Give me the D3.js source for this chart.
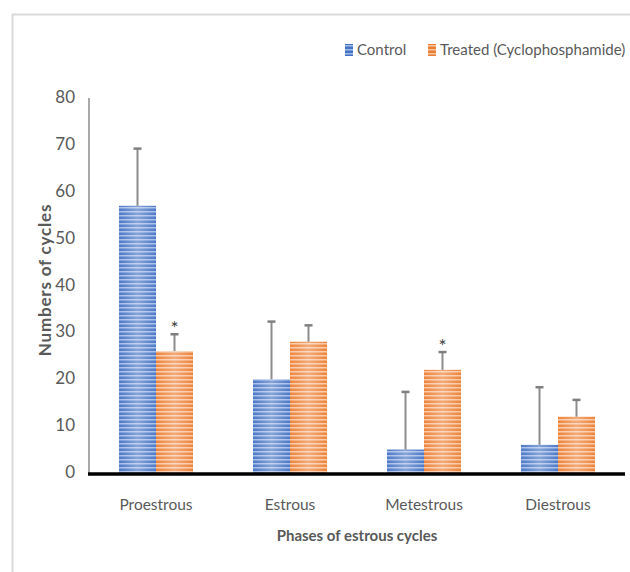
<!DOCTYPE html>
<html>
<head>
<meta charset="utf-8">
<style>
  body { margin: 0; background: #fff; }
  svg { display: block; font-family: Lato, "Open Sans", sans-serif; }
</style>
</head>
<body>
<svg width="630" height="572"></svg>
<script src="https://cdn.jsdelivr.net/npm/d3@7"></script>
<script>
var phases = ["Proestrous", "Estrous", "Metestrous", "Diestrous"];
var seriesNames = ["Control", "Treated (Cyclophosphamide)"];
var controlValues = [57, 20, 5, 6];
var controlErrors = [12.2, 12.3, 12.3, 12.3];
var treatedValues = [26, 28, 22, 12];
var treatedErrors = [3.6, 3.5, 3.8, 3.6];
var treatedStars = [true, false, true, false];
var yTicks = [0, 10, 20, 30, 40, 50, 60, 70, 80];

var svg = d3.select("svg"),
    margin = { left: 89, right: 5, top: 98, bottom: 99 },
    width = 630 - margin.left - margin.right,
    height = 572 - margin.top - margin.bottom;

// frame around the figure
svg.append("rect")
    .attr("x", 12.5).attr("y", 14.5)
    .attr("width", 640).attr("height", 600)
    .attr("fill", "none").attr("stroke", "#d9d9d9").attr("stroke-width", 2);

var defs = svg.append("defs");
function stripes(id, base, light) {
    var p = defs.append("pattern").attr("id", id)
        .attr("patternUnits", "userSpaceOnUse").attr("width", 8).attr("height", 4);
    p.append("rect").attr("width", 8).attr("height", 4).attr("fill", base);
    p.append("rect").attr("y", 1).attr("width", 8).attr("height", 1.5).attr("fill", light);
}
stripes("blueStripe", "#4472c4", "#a3bbe6");
stripes("orangeStripe", "#ed7d31", "#f8c6a2");
var sheen = defs.append("linearGradient").attr("id", "sheen");
sheen.append("stop").attr("offset", "0%").attr("stop-color", "#fff").attr("stop-opacity", 0.05);
sheen.append("stop").attr("offset", "50%").attr("stop-color", "#fff").attr("stop-opacity", 0.35);
sheen.append("stop").attr("offset", "100%").attr("stop-color", "#fff").attr("stop-opacity", 0.05);

var g = svg.append("g").attr("transform", "translate(" + margin.left + "," + margin.top + ")");

var x = d3.scaleBand().domain(phases).range([0, width]);
var inner = d3.scaleBand().domain(seriesNames).range([x.bandwidth() / 2 - 37, x.bandwidth() / 2 + 37]);
var y = d3.scaleLinear().domain([0, 80]).range([height, 0]);

// y tick labels, no tick marks
g.append("g").selectAll("text").data(yTicks).enter().append("text")
    .attr("x", -14).attr("y", function(d) { return y(d); })
    .attr("dy", "0.3em").attr("text-anchor", "end")
    .attr("fill", "#595959").attr("font-size", 17)
    .text(function(d) { return d; });

g.append("line")
    .attr("x1", 0).attr("x2", 0).attr("y1", 0).attr("y2", height)
    .attr("stroke", "#8c8c8c").attr("stroke-width", 1.5);

var series = [
    { name: seriesNames[0], values: controlValues, errors: controlErrors, fill: "url(#blueStripe)", stars: [] },
    { name: seriesNames[1], values: treatedValues, errors: treatedErrors, fill: "url(#orangeStripe)", stars: treatedStars }
];

series.forEach(function(s) {
    var grp = g.append("g");
    phases.forEach(function(p, i) {
        var bx = x(p) + inner(s.name), bw = inner.bandwidth();
        grp.append("rect").attr("x", bx).attr("y", y(s.values[i]))
            .attr("width", bw).attr("height", height - y(s.values[i]))
            .attr("fill", s.fill);
        grp.append("rect").attr("x", bx).attr("y", y(s.values[i]))
            .attr("width", bw).attr("height", height - y(s.values[i]))
            .attr("fill", "url(#sheen)");
        var cx = bx + bw / 2, top = y(s.values[i] + s.errors[i]);
        grp.append("line").attr("x1", cx).attr("x2", cx)
            .attr("y1", y(s.values[i])).attr("y2", top)
            .attr("stroke", "#8c8c8c").attr("stroke-width", 2);
        grp.append("line").attr("x1", cx - 4).attr("x2", cx + 4)
            .attr("y1", top).attr("y2", top)
            .attr("stroke", "#7f7f7f").attr("stroke-width", 2.5);
        if (s.stars[i]) {
            grp.append("text").attr("x", cx).attr("y", top + 1)
                .attr("text-anchor", "middle").attr("font-size", 19)
                .attr("fill", "#404040").text("*");
        }
    });
});

// x axis baseline
g.append("line")
    .attr("x1", -1).attr("x2", width).attr("y1", height + 1).attr("y2", height + 1)
    .attr("stroke", "#000").attr("stroke-width", 3.5);

g.append("g").selectAll("text").data(phases).enter().append("text")
    .attr("x", function(d) { return x(d) + x.bandwidth() / 2; })
    .attr("y", height + 37)
    .attr("text-anchor", "middle").attr("fill", "#595959").attr("font-size", 15.5)
    .text(function(d) { return d; });

svg.append("text")
    .attr("x", 357).attr("y", 541)
    .attr("text-anchor", "middle").attr("fill", "#595959")
    .attr("font-size", 15).attr("font-weight", "bold")
    .text("Phases of estrous cycles");

svg.append("text")
    .attr("transform", "translate(51,280) rotate(-90)")
    .attr("text-anchor", "middle").attr("fill", "#595959")
    .attr("font-size", 17).attr("font-weight", "bold")
    .attr("letter-spacing", 0.8)
    .text("Numbers of cycles");

// legend
var legendX = [345, 428];
series.forEach(function(s, i) {
    svg.append("rect").attr("x", legendX[i]).attr("y", 44)
        .attr("width", 8).attr("height", 12).attr("fill", s.fill);
    svg.append("text").attr("x", legendX[i] + 12).attr("y", 55)
        .attr("fill", "#595959").attr("font-size", 15)
        .text(s.name);
});
</script>
</body>
</html>
